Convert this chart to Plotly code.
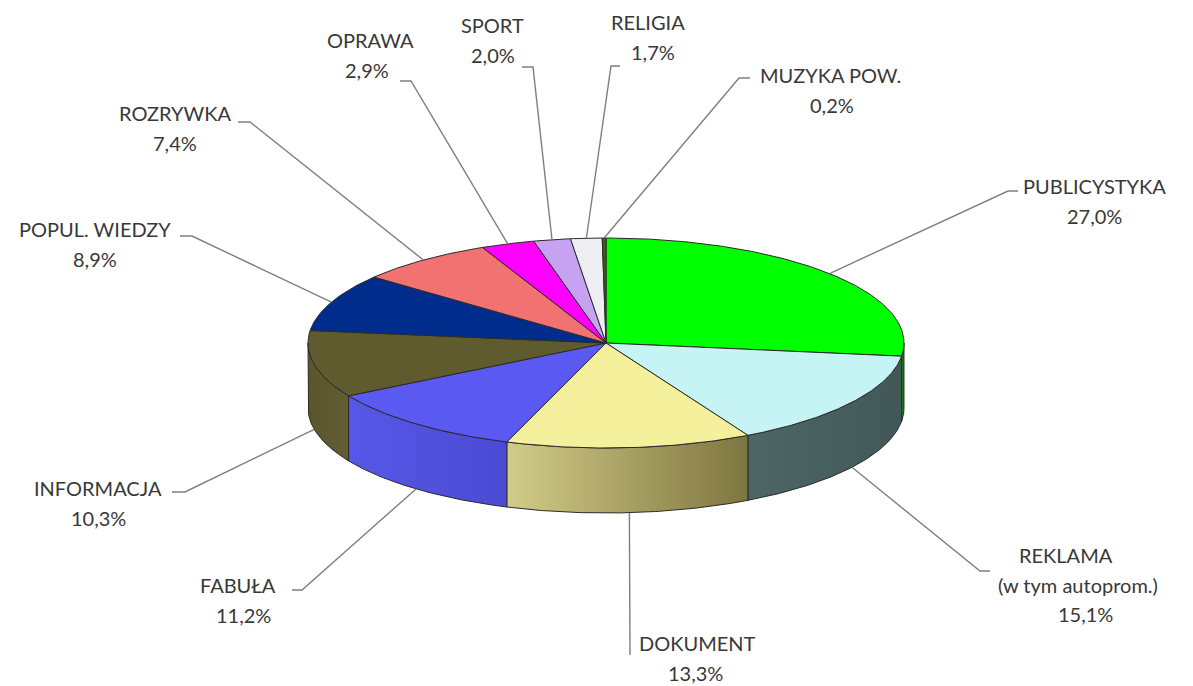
import numpy as np
import plotly.graph_objects as go

# ---- data ----
categories = ["PUBLICYSTYKA", "REKLAMA", "DOKUMENT", "FABUŁA", "INFORMACJA",
              "POPUL. WIEDZY", "ROZRYWKA", "OPRAWA", "SPORT", "RELIGIA", "MUZYKA POW."]
values = [27.0, 15.1, 13.3, 11.2, 10.3, 8.9, 7.4, 2.9, 2.0, 1.7, 0.2]
label_names = [["PUBLICYSTYKA"], ["REKLAMA", "(w tym autoprom.)"], ["DOKUMENT"], ["FABUŁA"],
               ["INFORMACJA"], ["POPUL. WIEDZY"], ["ROZRYWKA"], ["OPRAWA"], ["SPORT"],
               ["RELIGIA"], ["MUZYKA POW."]]

# ---- styles / layout positions ----
top_colors = ["#00ff00", "#c6f4f4", "#f4f09c", "#5a5af2", "#5f5b2e", "#002c8c",
              "#f27272", "#ff00ff", "#c8a2f2", "#eeeef2", "#3d5c1e"]
side_colors = [("#00b000", "#008000"), ("#4e6666", "#425858"), ("#d2cc88", "#7e7640"),
               ("#5858e8", "#4a4ad4"), ("#5a562c", "#625e34"), ("#00206a", "#001a5a"),
               ("#c05050", "#a04040"), ("#c000c0", "#a000a0"), ("#9a78c0", "#8a68b0"),
               ("#c0c0c8", "#b0b0b8"), ("#2a4010", "#203008")]
CX, CY, RX, RY, DEPTH = 606, 343, 298, 105, 65
W, H = 1193, 686

# text line centres (first line), per-line x offsets, leader (tick end, elbow)
text_pos = [(1094, 186), (1066, 555), (697, 643), (238, 585), (98, 488), (95, 229),
            (175, 113), (370, 40), (492, 25), (648, 22), (830, 75)]
text_dx = [[0, 0], [0, 12, 19], [0, -2], [0, 5], [0, 0], [0, 0], [0, 0], [0, -3],
           [0, 1], [0, 5], [0, 2]]
LINE_H = 29.5
leader = [((1018, 191), (1008, 191)), ((990, 571), (980, 571)), ((630, 655), (630, 655)),
          ((292, 590), (302, 590)), ((172, 492), (185, 492)), ((180, 236), (192, 236)),
          ((238, 122), (250, 122)), ((400, 81), (411, 81)), ((522, 67), (533, 67)),
          ((620, 66), (611, 66)), ((750, 78), (739, 78))]


def pt(frac, dy=0.0):
    t = 2 * np.pi * frac
    return CX + RX * np.sin(t), CY - RY * np.cos(t) + dy


fig = go.Figure()

total = sum(values)
cum = np.concatenate([[0], np.cumsum(values)]) / total

# sides (visible front half: fraction 0.25..0.75)
for i in range(len(values)):
    a0, a1 = cum[i], cum[i + 1]
    s0, s1 = max(a0, 0.25), min(a1, 0.75)
    if s1 <= s0:
        continue
    fr = np.linspace(s0, s1, max(3, int((s1 - s0) * 720)))
    xt, yt = pt(fr)
    xb, yb = pt(fr[::-1], DEPTH)
    xs = np.concatenate([xt, xb, xt[:1]])
    ys = np.concatenate([yt, yb, yt[:1]])
    c1, c2 = side_colors[i]
    fig.add_trace(go.Scatter(
        x=xs, y=ys, mode="lines", fill="toself",
        fillgradient=dict(type="horizontal", colorscale=[[0, c1], [1, c2]]),
        line=dict(color="#2a2a2a", width=1), hoverinfo="skip", showlegend=False))

# top faces
for i in range(len(values)):
    a0, a1 = cum[i], cum[i + 1]
    fr = np.linspace(a0, a1, max(3, int((a1 - a0) * 720)))
    xa, ya = pt(fr)
    xs = np.concatenate([[CX], xa, [CX]])
    ys = np.concatenate([[CY], ya, [CY]])
    fig.add_trace(go.Scatter(
        x=xs, y=ys, mode="lines", fill="toself", fillcolor=top_colors[i],
        line=dict(color="#2a2a2a", width=1), hoverinfo="skip", showlegend=False,
        name=categories[i]))

# leader lines + labels
annotations = []
for i in range(len(values)):
    mid = (cum[i] + cum[i + 1]) / 2
    front = 0.25 < mid < 0.75
    ax, ay = pt(mid, DEPTH if front else 0.0)
    (ex, ey), (bx, by) = leader[i]
    fig.add_trace(go.Scatter(
        x=[ex, bx, ax], y=[ey, by, ay], mode="lines",
        line=dict(color="#7f7f7f", width=1.4), hoverinfo="skip", showlegend=False))
    lines = label_names[i] + [f"{values[i]:.1f}".replace(".", ",") + "%"]
    tx, ty = text_pos[i]
    for k, s in enumerate(lines):
        annotations.append(dict(
            x=tx + text_dx[i][k], y=ty + k * LINE_H, text=s, showarrow=False,
            xref="x", yref="y", xanchor="center", yanchor="middle",
            font=dict(family="Lato", size=20, color="#383838")))

fig.update_layout(
    width=W, height=H, margin=dict(l=0, r=0, t=0, b=0),
    paper_bgcolor="white", plot_bgcolor="white",
    xaxis=dict(range=[0, W], visible=False, fixedrange=True),
    yaxis=dict(range=[H, 0], visible=False, fixedrange=True),
    annotations=annotations, showlegend=False)

fig.write_html("out.html", post_script="document.body.style.margin='0';",
               config={"displayModeBar": False})
